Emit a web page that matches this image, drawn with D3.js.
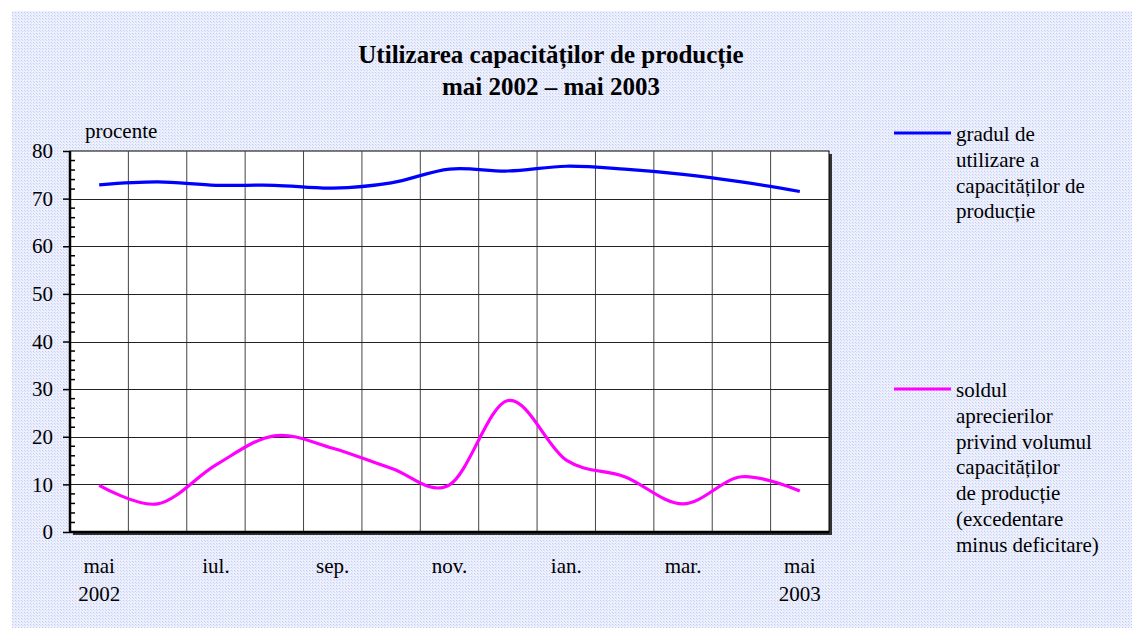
<!DOCTYPE html>
<html>
<head>
<meta charset="utf-8">
<script src="https://cdn.jsdelivr.net/npm/d3@7"></script>
<style>
  body { margin: 0; background: #fff; }
  svg text { font-family: "Liberation Serif", "Times New Roman", serif; fill: #000; }
</style>
</head>
<body>
<div id="chart"></div>
<script>
// months May 2002 .. May 2003
const months = ["2002-05", "2002-06", "2002-07", "2002-08", "2002-09", "2002-10", "2002-11",
  "2002-12", "2003-01", "2003-02", "2003-03", "2003-04", "2003-05"];
const monthLabels = {
  "2002-05": ["mai", "2002"], "2002-07": ["iul."], "2002-09": ["sep."], "2002-11": ["nov."],
  "2003-01": ["ian."], "2003-03": ["mar."], "2003-05": ["mai", "2003"]
};
const gradUtilizare = [72.9, 73.5, 72.8, 72.8, 72.2, 73.3, 76.2, 75.8, 76.8, 76.2, 75.1, 73.5, 71.5];
const soldAprecieri = [9.8, 5.9, 14.1, 20.2, 17.6, 13.4, 9.9, 27.6, 15.1, 11.6, 5.9, 11.6, 8.6];
const yTicks = [0, 10, 20, 30, 40, 50, 60, 70, 80];

const series = [
  { name: ["gradul de", "utilizare a", "capacităților de", "producție"], values: gradUtilizare, color: "#0000ff", legendY: 133 },
  { name: ["soldul", "aprecierilor", "privind volumul", "capacităților", "de producție", "(excedentare", "minus deficitare)"], values: soldAprecieri, color: "#ff00ff", legendY: 389 }
];

const serif = "Liberation Serif, Times New Roman, serif";
const W = 1132, H = 628;
const margin = { left: 70, top: 151, right: 303, bottom: 96 };
const pw = W - margin.left - margin.right;
const ph = H - margin.top - margin.bottom;

const svg = d3.select("#chart").append("svg").attr("width", W).attr("height", H);

// dotted light-blue background
const defs = svg.append("defs");
const pat = defs.append("pattern").attr("id", "dots")
  .attr("width", 3).attr("height", 3).attr("patternUnits", "userSpaceOnUse");
pat.append("rect").attr("width", 3).attr("height", 3).attr("fill", "#eceffc");
pat.append("rect").attr("width", 1).attr("height", 1).attr("fill", "#c4ccf4");
pat.append("rect").attr("x", 1).attr("y", 1).attr("width", 1).attr("height", 1).attr("fill", "#d4daf7");
svg.append("rect").attr("x", 12).attr("y", 11).attr("width", W - 12).attr("height", H - 11).attr("fill", "url(#dots)");

// title
const title = svg.append("text").attr("text-anchor", "middle")
  .style("font-size", "25px").style("font-weight", "bold");
title.append("tspan").attr("x", 551).attr("y", 63).text("Utilizarea capacităților de producție");
title.append("tspan").attr("x", 551).attr("y", 95).text("mai 2002 – mai 2003");

svg.append("text").attr("x", 85).attr("y", 138).style("font-size", "21px").text("procente");

const x = d3.scaleBand().domain(months).range([0, pw]);
const y = d3.scaleLinear().domain([0, 80]).range([ph, 0]);

const g = svg.append("g").attr("transform", `translate(${margin.left},${margin.top})`);

// plot shadow + area
g.append("rect").attr("x", 3).attr("y", 3).attr("width", pw).attr("height", ph).attr("fill", "#333");
g.append("rect").attr("width", pw).attr("height", ph).attr("fill", "#fff").attr("stroke", "#000").attr("stroke-width", 1);

// gridlines
g.selectAll(".vgrid").data(months.slice(1)).enter().append("line")
  .attr("x1", (d) => x(d)).attr("x2", (d) => x(d))
  .attr("y1", 0).attr("y2", ph)
  .attr("stroke", "#444").attr("stroke-width", 1);
g.selectAll(".hgrid").data(yTicks.slice(1, -1)).enter().append("line")
  .attr("x1", 0).attr("x2", pw)
  .attr("y1", (d) => Math.round(y(d)) + 0.5).attr("y2", (d) => Math.round(y(d)) + 0.5)
  .attr("stroke", "#222").attr("stroke-width", 1);

// y axis: major ticks outside, minor inside
const yAxis = g.append("g").call(d3.axisLeft(y).tickValues(yTicks).tickSize(7).tickPadding(10))
  .attr("font-family", serif).attr("font-size", 21);
yAxis.select(".domain").remove();
yAxis.selectAll("line").attr("stroke", "#000").attr("stroke-width", 1.5);
yAxis.selectAll("text").style("font-size", "21px").style("font-family", serif);
const minor = d3.range(0, 81, 2).filter((v) => v % 10 !== 0);
g.selectAll(".minor").data(minor).enter().append("line")
  .attr("x1", 0).attr("x2", 5)
  .attr("y1", (d) => y(d)).attr("y2", (d) => y(d))
  .attr("stroke", "#000").attr("stroke-width", 1.5);
g.append("line").attr("x1", 0).attr("x2", 0).attr("y1", 0).attr("y2", ph).attr("stroke", "#000").attr("stroke-width", 2.5);
g.append("line").attr("x1", 0).attr("x2", pw).attr("y1", ph).attr("y2", ph).attr("stroke", "#000").attr("stroke-width", 2.5);

// x labels
const xl = g.selectAll(".xlab").data(Object.keys(monthLabels)).enter().append("text")
  .attr("text-anchor", "middle").style("font-size", "21px");
xl.each(function (d) {
  const t = d3.select(this);
  monthLabels[d].forEach((s, i) => {
    t.append("tspan").attr("x", x(d) + x.bandwidth() / 2).attr("y", ph + 41 + i * 28).text(s);
  });
});

// lines
const line = d3.line()
  .x((d, i) => x(months[i]) + x.bandwidth() / 2)
  .y((d) => y(d))
  .curve(d3.curveCardinal.tension(0));
series.forEach((s) => {
  g.append("path").datum(s.values).attr("d", line)
    .attr("fill", "none").attr("stroke", s.color).attr("stroke-width", 3.2);
});

// legend
series.forEach((s) => {
  svg.append("line").attr("x1", 894).attr("x2", 951).attr("y1", s.legendY).attr("y2", s.legendY)
    .attr("stroke", s.color).attr("stroke-width", 3.2);
  const t = svg.append("text").style("font-size", "21px");
  s.name.forEach((n, i) => {
    t.append("tspan").attr("x", 956).attr("y", s.legendY + 8 + i * 25.8).text(n);
  });
});
</script>
</body>
</html>
